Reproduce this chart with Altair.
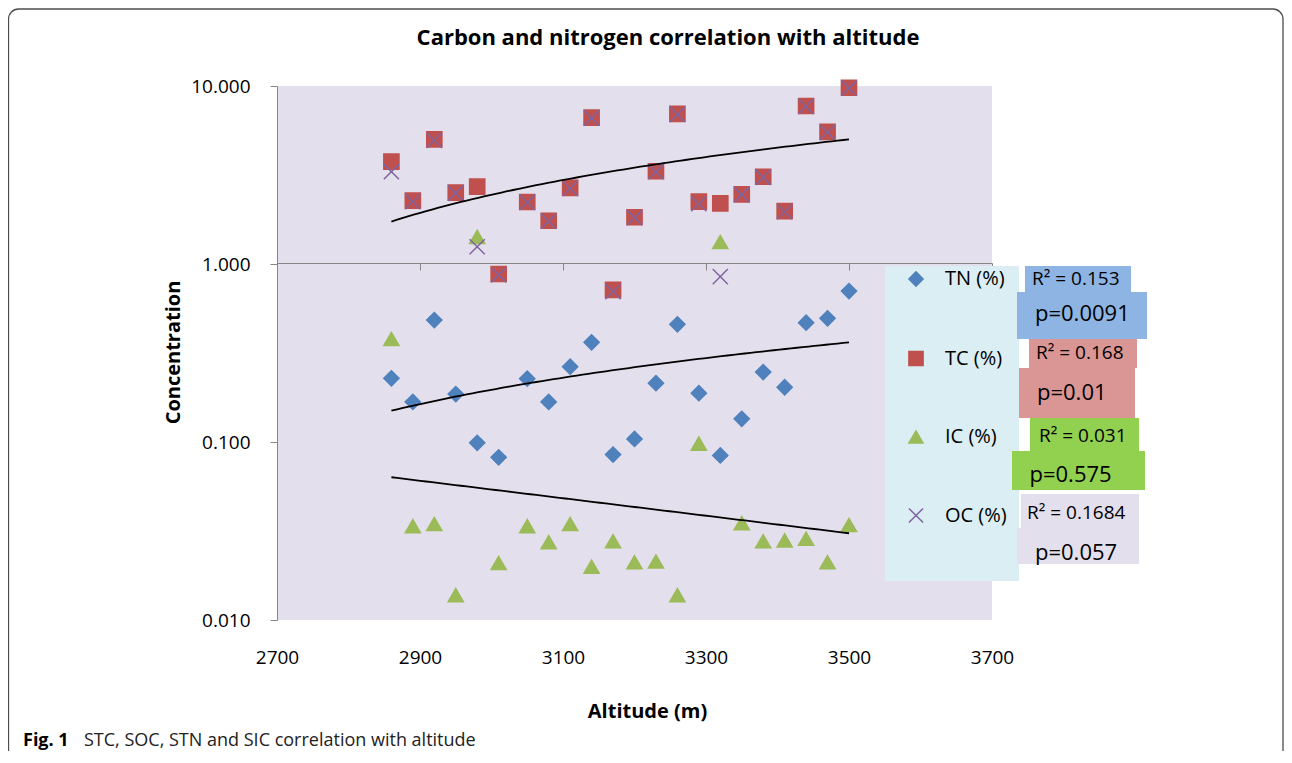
import numpy as np
import pandas as pd
import altair as alt

# ---------------- data ----------------
altitude = [2860, 2890, 2920, 2950, 2980, 3010, 3050, 3080, 3110, 3140, 3170,
            3200, 3230, 3260, 3290, 3320, 3350, 3380, 3410, 3440, 3470, 3500]
tn = [0.228, 0.168, 0.484, 0.186, 0.099, 0.082, 0.227, 0.168, 0.265, 0.363, 0.085,
      0.104, 0.214, 0.458, 0.188, 0.084, 0.135, 0.247, 0.203, 0.468, 0.495, 0.705]
tc = [3.76, 2.27, 5.01, 2.52, 2.72, 0.879, 2.23, 1.75, 2.68, 6.64, 0.715,
      1.83, 3.32, 6.97, 2.24, 2.19, 2.46, 3.09, 1.98, 7.72, 5.52, 9.78]
ic = [0.379, 0.0337, 0.0346, 0.0138, 1.42, 0.0209, 0.0337, 0.0274, 0.0346, 0.0199, 0.0277,
      0.0211, 0.0213, 0.0138, 0.098, 1.33, 0.035, 0.0277, 0.028, 0.0286, 0.0211, 0.0342]
oc = [3.30, 2.24, 4.95, 2.50, 1.25, 0.87, 2.22, 1.74, 2.66, 6.60, 0.70,
      1.82, 3.30, 6.93, 2.18, 0.849, 2.45, 3.07, 1.97, 7.68, 5.48, 9.72]

series_names = ["TN (%)", "TC (%)", "IC (%)", "OC (%)"]
trend_series = {"TN (%)": "linear", "OC (%)": "linear", "IC (%)": "exp"}

r2_labels = ["R\u00b2 = 0.153", "R\u00b2 = 0.168", "R\u00b2 = 0.031", "R\u00b2 = 0.1684"]
p_labels = ["p=0.0091", "p=0.01", "p=0.575", "p=0.057"]

x_ticks = [2700, 2900, 3100, 3300, 3500, 3700]
y_ticks = [0.01, 0.1, 1, 10]

chart_title = "Carbon and nitrogen correlation with altitude"
x_title = "Altitude (m)"
y_title = "Concentration"
caption_bold = "Fig. 1"
caption_text = "STC, SOC, STN and SIC correlation with altitude"

# ---------------- styles / layout ----------------
FONT = "Open Sans"
series_colors = ["#4F81BD", "#C0504D", "#9BBB59", "#8064A2"]
series_shapes = ["diamond", "square", "triangle-up", "M-1,-1L1,1M-1,1L1,-1"]
box_colors = ["#8DB4E2", "#DA9694", "#92D050", "#E4DFEC"]
# annotation boxes in pixels relative to the plot origin: (x1, x2, y1, y2)
r2_boxes = [(748, 854, 180, 206), (752, 860, 253, 282), (753, 862, 332, 365), (744, 862, 408, 442)]
p_boxes = [(740, 870, 206, 253), (742, 858, 282, 332), (735, 868, 365, 404), (740, 862, 442, 478)]
r2_text_pos = [(755, 193), (759, 266.5), (762, 350), (750, 427)]
p_text_pos = [(758, 228), (760, 306.5), (752.5, 388.5), (758, 466.5)]

W, H = 715, 534
PAD = {"left": 269, "top": 78, "right": 292, "bottom": 131}

# ---------------- tables ----------------
rows = []
for name, vals in zip(series_names, [tn, tc, ic, oc]):
    for a, v in zip(altitude, vals):
        rows.append({"alt": a, "value": v, "series": name})
pts = pd.DataFrame(rows)

trend_rows = []
alt_arr = np.array(altitude, dtype=float)
grid = np.linspace(alt_arr.min(), alt_arr.max(), 80)
for name, vals in zip(series_names, [tn, tc, ic, oc]):
    if name not in trend_series:
        continue
    v = np.array(vals, dtype=float)
    if trend_series[name] == "linear":
        b, a0 = np.polyfit(alt_arr, v, 1)
        fit = a0 + b * grid
    else:
        b, a0 = np.polyfit(alt_arr, np.log(v), 1)
        fit = np.exp(a0 + b * grid)
    for g, f in zip(grid, fit):
        trend_rows.append({"alt": float(g), "value": float(f), "series": name})
trend = pd.DataFrame(trend_rows)

boxes = pd.DataFrame(
    [{"x1": b[0], "x2": b[1], "y1": b[2], "y2": b[3], "col": c} for b, c in zip(r2_boxes, box_colors)]
    + [{"x1": b[0], "x2": b[1], "y1": b[2], "y2": b[3], "col": c} for b, c in zip(p_boxes, box_colors)]
)
r2_df = pd.DataFrame([{"tx": p[0], "ty": p[1], "label": t} for p, t in zip(r2_text_pos, r2_labels)])
p_df = pd.DataFrame([{"tx": p[0], "ty": p[1], "label": t} for p, t in zip(p_text_pos, p_labels)])

one = alt.Data(values=[{"k": 1}])

# ---------------- encodings ----------------
x_enc = alt.X(
    "alt:Q",
    scale=alt.Scale(domain=[2700, 3700], nice=False, zero=False),
    axis=alt.Axis(values=x_ticks, format="d", offset=-357, labelPadding=378,
                  labelFlush=False, labelOverlap=False,
                  title=x_title, titleX=370, titleY=454, titleBaseline="alphabetic",
                  titleAlign="center"),
)
y_enc = alt.Y(
    "value:Q",
    scale=alt.Scale(type="log", domain=[0.01, 10], nice=False),
    axis=alt.Axis(values=y_ticks, format=".3f", labelPadding=20,
                  title=y_title, titleX=-98, titleY=266, titleAngle=270,
                  titleBaseline="alphabetic", titleAlign="center"),
)

frame = alt.Chart(one).mark_rect(
    fill="transparent", stroke="#4d4d4d", strokeWidth=1.3, cornerRadius=10
).encode(x=alt.value(-268.5), x2=alt.value(1006), y=alt.value(-77), y2=alt.value(700))

title_mark = alt.Chart(one).mark_text(
    align="center", baseline="alphabetic", font=FONT, fontSize=22, fontWeight="bold", color="black"
).encode(x=alt.value(391), y=alt.value(-41), text=alt.value(chart_title))

legend_bg = alt.Chart(one).mark_rect(fill="#DAEEF3").encode(
    x=alt.value(608), x2=alt.value(742), y=alt.value(180), y2=alt.value(495)
)

points = alt.Chart(pts).mark_point(filled=True, size=230, strokeWidth=1.5, opacity=1).encode(
    x=x_enc,
    y=y_enc,
    fill=alt.Fill("series:N", scale=alt.Scale(domain=series_names, range=series_colors),
                  legend=alt.Legend(title=None)),
    stroke=alt.Stroke("series:N", scale=alt.Scale(domain=series_names, range=series_colors),
                      legend=alt.Legend(title=None)),
    shape=alt.Shape("series:N", scale=alt.Scale(domain=series_names, range=series_shapes),
                    legend=alt.Legend(title=None)),
)

lines = alt.Chart(trend).mark_line(color="black", strokeWidth=1.8).encode(
    x=x_enc, y=y_enc, detail="series:N"
)

box_layer = alt.Chart(boxes).mark_rect().encode(
    x=alt.X("x1:Q", scale=None, axis=None),
    x2="x2:Q",
    y=alt.Y("y1:Q", scale=None, axis=None),
    y2="y2:Q",
    color=alt.Color("col:N", scale=None, legend=None),
)

r2_text = alt.Chart(r2_df).mark_text(
    align="left", baseline="middle", font=FONT, fontSize=19, color="black"
).encode(x=alt.X("tx:Q", scale=None, axis=None), y=alt.Y("ty:Q", scale=None, axis=None), text="label:N")

p_text = alt.Chart(p_df).mark_text(
    align="left", baseline="middle", font=FONT, fontSize=22, color="black"
).encode(x=alt.X("tx:Q", scale=None, axis=None), y=alt.Y("ty:Q", scale=None, axis=None), text="label:N")

cap1 = alt.Chart(one).mark_text(
    align="left", baseline="alphabetic", font=FONT, fontSize=18, fontWeight="bold", color="black"
).encode(x=alt.value(-254), y=alt.value(660), text=alt.value(caption_bold))
cap2 = alt.Chart(one).mark_text(
    align="left", baseline="alphabetic", font=FONT, fontSize=18, color="#222222"
).encode(x=alt.value(-193), y=alt.value(660), text=alt.value(caption_text))

chart = alt.layer(
    frame, title_mark, legend_bg, points, lines, box_layer, r2_text, p_text, cap1, cap2
).properties(
    width=W, height=H, padding=PAD, background="white",
    autosize=alt.AutoSizeParams(type="none"),
).configure_view(
    fill="#E4DFEC", stroke=None
).configure_axis(
    labelFont=FONT, titleFont=FONT, labelColor="black", titleColor="black",
    labelFontSize=19, titleFontSize=20, titleFontWeight="bold",
    domainColor="#868686", tickColor="#868686", domainWidth=1, tickWidth=1,
    tickSize=7, grid=False,
).configure_legend(
    orient="none", legendX=629, legendY=183, padding=0,
    labelFont=FONT, labelFontSize=20, labelColor="black",
    symbolSize=200, symbolStrokeWidth=1.5, rowPadding=57.5, labelOffset=19,
)

chart.save("out.html", embed_options={"renderer": "svg", "actions": False})
